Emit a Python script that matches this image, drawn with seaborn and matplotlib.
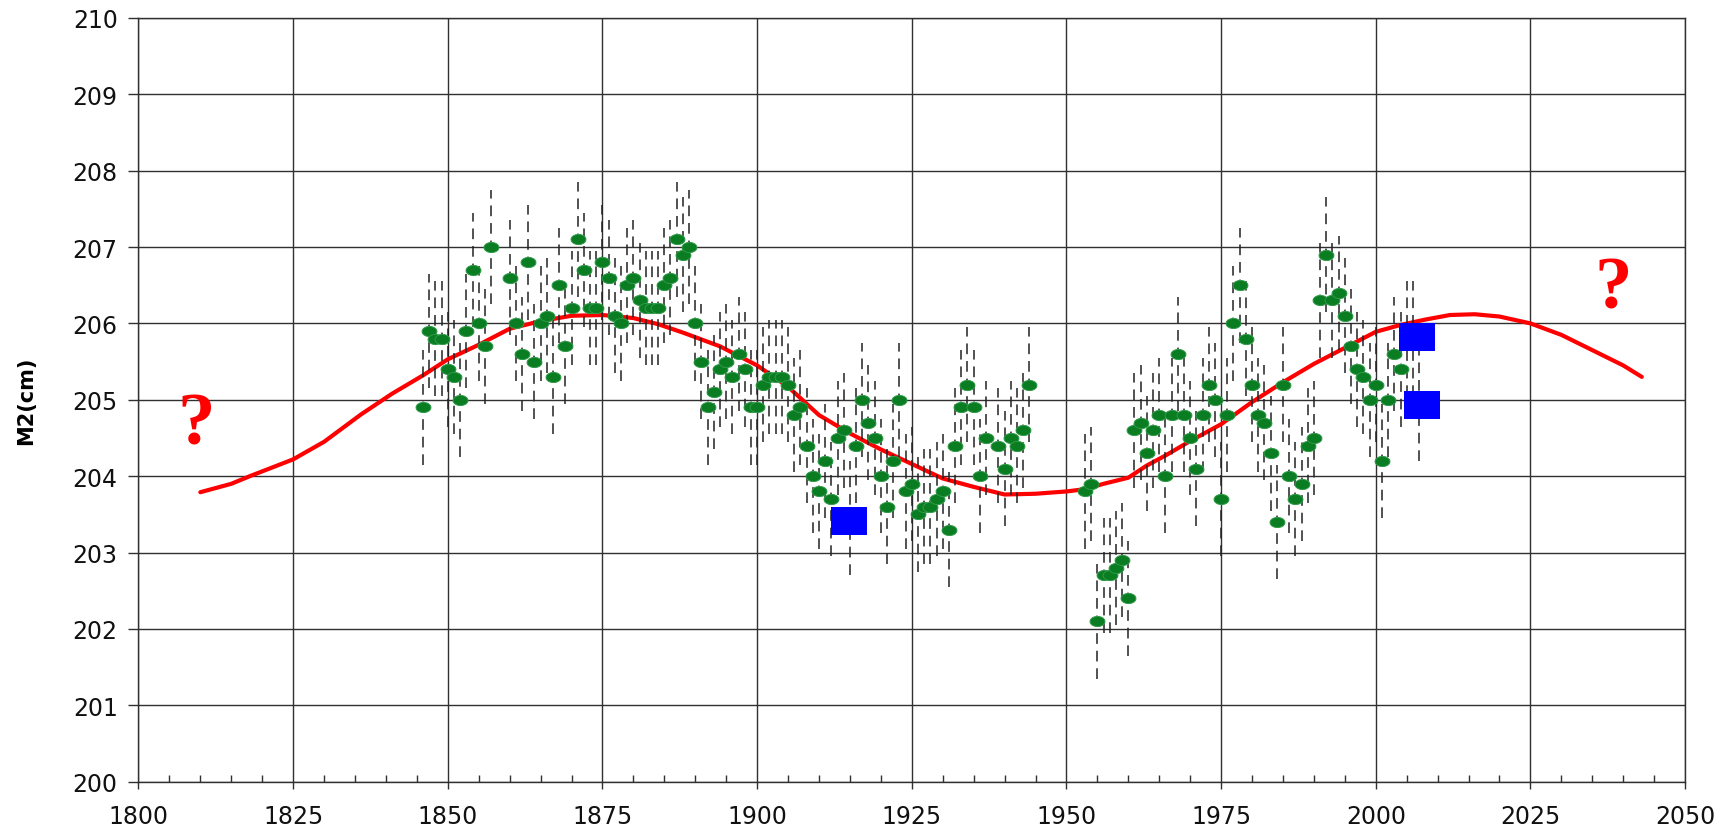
import numpy as np
import pandas as pd
import seaborn as sns
import matplotlib
matplotlib.use("Agg")
import matplotlib.pyplot as plt
from matplotlib.path import Path
from matplotlib.ticker import MultipleLocator

# yearly M2 values (cm)
years = [1846, 1847, 1848, 1849, 1850, 1851, 1852, 1853, 1854, 1855, 1856, 1857,
         1860, 1861, 1862, 1863, 1864, 1865, 1866, 1867, 1868, 1869, 1870, 1871,
         1872, 1873, 1874, 1875, 1876, 1877, 1878, 1879, 1880, 1881, 1882, 1883,
         1884, 1885, 1886, 1887, 1888, 1889, 1890, 1891, 1892, 1893, 1894, 1895,
         1896, 1897, 1898, 1899, 1900, 1901, 1902, 1903, 1904, 1905, 1906, 1907,
         1908, 1909, 1910, 1911, 1912, 1913, 1914, 1915, 1916, 1917, 1918, 1919,
         1920, 1921, 1922, 1923, 1924, 1925, 1926, 1927, 1928, 1929, 1930, 1931,
         1932, 1933, 1934, 1935, 1936, 1937, 1939, 1940, 1941, 1942, 1943, 1944,
         1953, 1954, 1955, 1956, 1957, 1958, 1959, 1960, 1961, 1962, 1963, 1964,
         1965, 1966, 1967, 1968, 1969, 1970, 1971, 1972, 1973, 1974, 1975, 1976,
         1977, 1978, 1979, 1980, 1981, 1982, 1983, 1984, 1985, 1986, 1987, 1988,
         1989, 1990, 1991, 1992, 1993, 1994, 1995, 1996, 1997, 1998, 1999, 2000,
         2001, 2002, 2003, 2004, 2005, 2006, 2007]
m2 = [204.9, 205.9, 205.8, 205.8, 205.4, 205.3, 205.0, 205.9, 206.7, 206.0, 205.7, 207.0,
      206.6, 206.0, 205.6, 206.8, 205.5, 206.0, 206.1, 205.3, 206.5, 205.7, 206.2, 207.1,
      206.7, 206.2, 206.2, 206.8, 206.6, 206.1, 206.0, 206.5, 206.6, 206.3, 206.2, 206.2,
      206.2, 206.5, 206.6, 207.1, 206.9, 207.0, 206.0, 205.5, 204.9, 205.1, 205.4, 205.5,
      205.3, 205.6, 205.4, 204.9, 204.9, 205.2, 205.3, 205.3, 205.3, 205.2, 204.8, 204.9,
      204.4, 204.0, 203.8, 204.2, 203.7, 204.5, 204.6, 203.45, 204.4, 205.0, 204.7, 204.5,
      204.0, 203.6, 204.2, 205.0, 203.8, 203.9, 203.5, 203.6, 203.6, 203.7, 203.8, 203.3,
      204.4, 204.9, 205.2, 204.9, 204.0, 204.5, 204.4, 204.1, 204.5, 204.4, 204.6, 205.2,
      203.8, 203.9, 202.1, 202.7, 202.7, 202.8, 202.9, 202.4, 204.6, 204.7, 204.3, 204.6,
      204.8, 204.0, 204.8, 205.6, 204.8, 204.5, 204.1, 204.8, 205.2, 205.0, 203.7, 204.8,
      206.0, 206.5, 205.8, 205.2, 204.8, 204.7, 204.3, 203.4, 205.2, 204.0, 203.7, 203.9,
      204.4, 204.5, 206.3, 206.9, 206.3, 206.4, 206.1, 205.7, 205.4, 205.3, 205.0, 205.2,
      204.2, 205.0, 205.6, 205.4, 205.8, 205.8, 204.95]
err = 0.75

# red trend curve
curve_years = [1810, 1815, 1818, 1825, 1830, 1836, 1841, 1846, 1850, 1855, 1860, 1865,
               1870, 1875, 1880, 1884, 1888, 1894, 1900, 1905, 1910, 1915, 1920, 1925,
               1930, 1935, 1940, 1945, 1950, 1953, 1956, 1960, 1963, 1966, 1970, 1975,
               1980, 1985, 1990, 1995, 2000, 2004, 2008, 2012, 2016, 2020, 2025, 2030,
               2035, 2040, 2043]
curve_m2 = [203.79, 203.9, 204.0, 204.22, 204.45, 204.81, 205.08, 205.32, 205.53, 205.72,
            205.93, 206.03, 206.1, 206.11, 206.07, 205.99, 205.88, 205.7, 205.45, 205.17,
            204.8, 204.56, 204.35, 204.16, 203.97, 203.86, 203.76, 203.77, 203.8, 203.83,
            203.9, 203.98, 204.14, 204.27, 204.46, 204.68, 204.97, 205.23, 205.47, 205.68,
            205.89, 205.98, 206.05, 206.11, 206.12, 206.09, 206.0, 205.85, 205.65, 205.45,
            205.3]

# blue boxes and question marks
box_years = [1914.9, 2006.6, 2007.4]
box_m2 = [203.41, 205.82, 204.93]
q_years = [1809.4, 2038.4]
q_m2 = [204.66, 206.44]

pts = pd.DataFrame({"year": years, "m2": m2})
curve = pd.DataFrame({"year": curve_years, "m2": curve_m2})

sns.set_theme(style="white")
plt.rcParams["font.family"] = ["DejaVu Sans"]

fig = plt.figure(figsize=(17.2, 8.28), dpi=100)
ax = fig.add_axes([0.0805, 0.0547, 0.8992, 0.9225])

t = np.linspace(0, 2 * np.pi, 41)
ellipse = Path(np.column_stack([np.cos(t), 0.68 * np.sin(t)]))
box = Path([(-1, -0.76), (1, -0.76), (1, 0.76), (-1, 0.76), (-1, -0.76)])

sns.lineplot(data=curve, x="year", y="m2", color="#ff0000", lw=3, ax=ax, zorder=3)

ax.vlines(pts["year"], pts["m2"] - err, pts["m2"] + err, colors="#222222",
          linestyles=(0, (7, 4.5)), lw=1.1, zorder=4)

sns.scatterplot(data=pts, x="year", y="m2", marker=ellipse, s=115, color="#0a7d22",
                edgecolor="#2f9a48", linewidth=0.7, ax=ax, zorder=5, legend=False)

sns.scatterplot(x=box_years, y=box_m2, marker=box, s=690, color="#0000ff",
                edgecolor="#0000ff", linewidth=0, ax=ax, zorder=6, legend=False)

for qx, qy in zip(q_years, q_m2):
    ax.text(qx, qy, "?", family=["Liberation Serif", "DejaVu Serif"], fontweight="bold",
            fontsize=54, color="#ff0000", ha="center", va="center", zorder=7)

ax.set_xlim(1800, 2050)
ax.set_ylim(200, 210)
ax.xaxis.set_major_locator(MultipleLocator(25))
ax.xaxis.set_minor_locator(MultipleLocator(5))
ax.yaxis.set_major_locator(MultipleLocator(1))

ax.grid(True, which="major", color="#303030", lw=1.0)
ax.set_axisbelow(True)
for sp in ax.spines.values():
    sp.set_color("#303030")
    sp.set_linewidth(1.0)

ax.tick_params(axis="x", which="major", direction="out", length=5, width=1,
               color="#303030", labelsize=17, labelcolor="#111111", pad=11, bottom=True)
ax.tick_params(axis="x", which="minor", direction="in", length=5, width=1,
               color="#303030", bottom=True)
ax.tick_params(axis="y", which="major", direction="out", length=7, width=1,
               color="#303030", labelsize=17, labelcolor="#111111", pad=8, left=True)

ax.set_xlabel("")
ax.set_ylabel("M2(cm)", fontsize=15, fontweight="heavy", color="#000000")
ax.yaxis.set_label_coords(-0.066, 0.5)

fig.savefig("out.png", dpi=100)
